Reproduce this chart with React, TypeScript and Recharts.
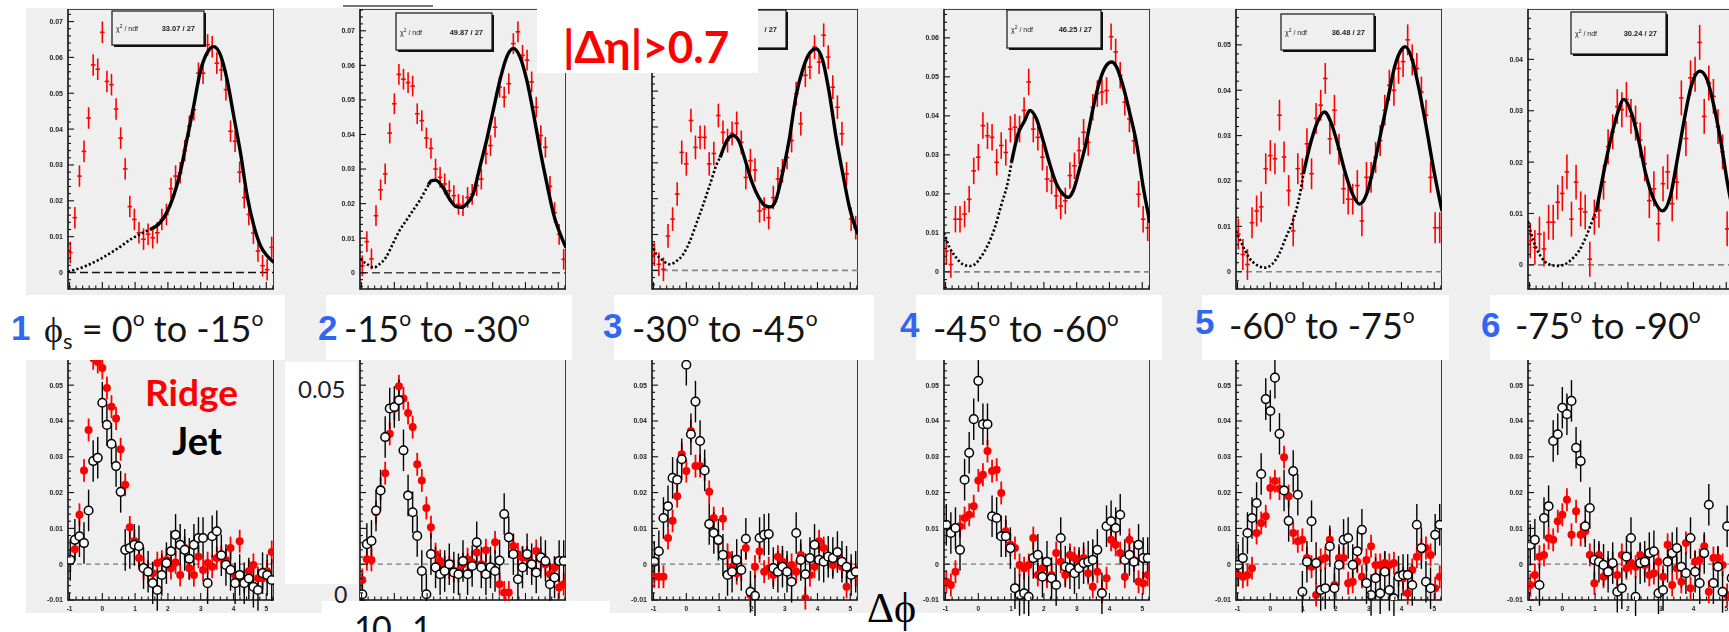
import {
  ComposedChart,
  Scatter,
  Line,
  XAxis,
  YAxis,
  ErrorBar,
  ReferenceLine,
  ReferenceArea,
} from 'recharts';

// Δφ binning shared by all twelve histograms: 45 bins of 8° from -π/3 to 5π/3
const PHI_LOW = -Math.PI / 3;
const PHI_HIGH = (5 * Math.PI) / 3;
const BIN_HALF_WIDTH = Math.PI / 45;

const deltaPhiBins = [
  -0.977, -0.838, -0.698, -0.559, -0.419, -0.279, -0.14, 0.0, 0.14, 0.279, 0.419, 0.559, 0.698,
  0.838, 0.977, 1.117, 1.257, 1.396, 1.536, 1.676, 1.815, 1.955, 2.094, 2.234, 2.374, 2.513, 2.653,
  2.793, 2.932, 3.072, 3.211, 3.351, 3.491, 3.63, 3.77, 3.91, 4.049, 4.189, 4.328, 4.468, 4.608,
  4.747, 4.887, 5.027, 5.166,
];

// all yields below are in units of 10^-3

// upper row: |Δη| > 0.7 correlation per trigger orientation bin
const ridgeTop1 = [
  5.6, 15.3, 26.9, 33.8, 43.1, 57.9, 56.7, 67.0, 53.3, 52.4, 45.6, 37.5, 28.9, 18.4, 14.8, 11.1,
  9.3, 10.7, 9.7, 11.1, 14.8, 16.2, 23.4, 26.9, 27.8, 34.0, 40.8, 45.4, 55.6, 55.6, 63.5, 63.0, 58.4,
  56.5, 51.0, 39.4, 36.6, 28.0, 20.9, 16.2, 11.0, 6.0, 1.9, 0.8, 7.0,
];
const ridgeTop2 = [
  2.0, 9.0, 4.0, 16.5, 24.0, 28.6, 40.4, 48.9, 57.4, 56.0, 55.0, 54.0, 46.0, 44.0, 39.0, 36.0, 30.0,
  27.6, 25.7, 23.7, 22.3, 19.8, 19.4, 21.8, 22.7, 25.2, 27.1, 34.4, 36.8, 42.1, 53.7, 50.8, 54.7,
  66.3, 69.7, 62.9, 61.5, 55.2, 47.9, 39.7, 36.3, 25.0, 17.4, 11.1, 3.9,
];
const ridgeTop3 = [
  4.5, 1.7, 0.3, 9.6, 14.3, 21.3, 32.9, 29.7, 41.8, 34.3, 37.1, 37.1, 29.7, 32.6, 43.2, 38.5, 36.2,
  38.2, 41.0, 35.7, 25.9, 30.6, 28.0, 16.6, 17.1, 14.7, 20.3, 25.5, 27.8, 31.5, 36.2, 49.3, 40.9,
  54.4, 56.7, 62.3, 58.1, 65.6, 59.5, 51.1, 45.5, 38.1, 26.9, 14.3, 11.9,
];
const ridgeTop4 = [
  5.3, 1.9, 13.5, 13.5, 14.8, 18.6, 25.9, 29.4, 37.5, 34.9, 34.5, 28.1, 32.4, 30.6, 36.6, 37.1, 36.6,
  41.4, 48.7, 36.6, 34.5, 29.4, 23.8, 23.3, 19.5, 16.9, 18.2, 24.7, 27.2, 31.1, 35.8, 33.2, 42.2,
  45.7, 46.1, 46.5, 60.3, 56.4, 50.4, 43.5, 39.2, 33.6, 19.9, 13.5, 11.3,
];
const ridgeTop5 = [
  8.3, 3.8, 1.6, 10.8, 13.4, 14.3, 22.7, 25.6, 24.9, 34.5, 25.3, 17.9, 9.0, 22.7, 21.6, 28.2, 21.6,
  33.8, 36.7, 42.6, 29.3, 35.6, 27.0, 18.3, 16.0, 16.0, 19.0, 11.2, 20.8, 20.8, 25.2, 28.9, 35.6,
  41.1, 40.0, 44.8, 46.3, 51.1, 46.7, 44.8, 39.6, 34.5, 20.8, 9.7, 9.7,
];
const ridgeTop6 = [
  4.7, 3.4, 6.0, 3.1, 8.3, 8.3, 12.2, 13.9, 18.1, 8.9, 16.1, 10.9, 10.3, 1.1, 9.3, 10.6, 16.1, 23.0,
  25.9, 30.8, 30.2, 32.2, 28.9, 27.6, 24.3, 19.7, 12.5, 14.8, 8.0, 15.8, 18.1, 11.9, 16.1, 32.5,
  24.6, 36.4, 37.1, 43.3, 28.9, 35.4, 32.8, 26.9, 22.0, 7.0, 10.0,
];

// fit curves, [Δφ, yield]; "outer" is drawn dotted, "inner" is the fitted range
type Pt = [number, number];
const fitTop1Outer: Pt[] = [
  [-1.047, 0.2], [-0.485, 1.9], [-0.077, 3.7], [0.434, 6.5], [0.945, 9.7], [1.456, 12.0],
];
const fitTop1Inner: Pt[] = [
  [1.456, 12.0], [1.762, 13.9], [1.966, 16.7], [2.171, 21.3], [2.375, 27.8], [2.579, 37.1],
  [2.784, 46.3], [2.988, 56.1], [3.192, 61.2], [3.396, 63.0], [3.601, 60.7], [3.805, 53.8],
  [4.009, 43.6], [4.214, 33.4], [4.418, 21.3], [4.622, 13.0], [4.826, 7.4], [5.031, 4.6],
  [5.235, 2.8],
];
const fitTop2Outer: Pt[] = [
  [-1.047, 4.0], [-0.822, 2.4], [-0.617, 1.5], [-0.464, 2.4], [-0.259, 4.4], [-0.054, 8.2],
  [0.151, 12.1], [0.355, 15.0], [0.56, 17.9], [0.765, 20.8], [0.969, 24.2], [1.047, 25.5],
];
const fitTop2Inner: Pt[] = [
  [1.047, 25.5], [1.123, 26.6], [1.256, 26.8], [1.481, 24.7], [1.686, 21.3], [1.89, 19.1],
  [2.044, 18.9], [2.198, 19.8], [2.402, 22.7], [2.607, 30.5], [2.812, 38.2], [3.016, 47.0],
  [3.221, 55.7], [3.426, 62.4], [3.631, 64.9], [3.835, 62.4], [4.04, 55.7], [4.245, 46.0],
  [4.45, 35.3], [4.654, 25.7], [4.859, 16.9], [5.064, 11.1], [5.236, 7.3],
];
const fitTop3Outer: Pt[] = [
  [-1.047, 7.3], [-0.914, 4.5], [-0.76, 3.1], [-0.504, 1.7], [-0.299, 2.6], [-0.094, 4.5],
  [0.111, 8.2], [0.316, 13.3], [0.521, 18.5], [0.726, 24.1], [0.93, 29.7], [1.033, 31.5],
];
const fitTop3Inner: Pt[] = [
  [1.033, 31.5], [1.238, 36.2], [1.422, 37.6], [1.596, 36.2], [1.801, 30.6], [2.006, 24.5],
  [2.211, 20.3], [2.416, 18.0], [2.57, 17.7], [2.723, 19.4], [2.928, 26.9], [3.133, 36.2],
  [3.338, 48.3], [3.543, 55.8], [3.748, 60.4], [3.953, 61.8], [4.158, 58.6], [4.363, 49.3],
  [4.568, 37.1], [4.773, 26.9], [4.977, 17.5], [5.234, 10.1],
];
const fitTop4Outer: Pt[] = [
  [-1.047, 10.0], [-0.874, 6.2], [-0.67, 3.6], [-0.467, 1.9], [-0.263, 1.5], [-0.11, 1.9],
  [0.094, 4.0], [0.297, 7.0], [0.501, 11.3], [0.705, 17.3], [0.908, 23.3], [1.01, 28.0],
];
const fitTop4Inner: Pt[] = [
  [1.01, 28.0], [1.214, 35.4], [1.417, 38.8], [1.57, 41.4], [1.774, 39.2], [1.977, 33.6],
  [2.181, 27.6], [2.385, 22.5], [2.588, 19.9], [2.741, 19.1], [2.894, 20.8], [3.098, 26.8],
  [3.301, 33.6], [3.505, 42.2], [3.709, 49.1], [3.912, 53.0], [4.065, 53.8], [4.218, 52.5],
  [4.422, 47.4], [4.625, 40.5], [4.829, 32.8], [5.032, 21.6], [5.236, 12.6],
];
const fitTop5Outer: Pt[] = [
  [-1.047, 9.0], [-0.865, 6.1], [-0.651, 3.1], [-0.437, 1.6], [-0.169, 0.9], [0.045, 1.6],
  [0.259, 3.8], [0.473, 7.5], [0.687, 11.2], [0.902, 17.1], [1.009, 21.6],
];
const fitTop5Inner: Pt[] = [
  [1.009, 21.6], [1.223, 28.2], [1.437, 33.0], [1.651, 35.2], [1.865, 32.6], [2.079, 27.5],
  [2.293, 21.6], [2.508, 17.1], [2.722, 14.9], [2.936, 17.1], [3.15, 23.0], [3.364, 30.4],
  [3.578, 37.8], [3.792, 45.2], [4.006, 49.0], [4.114, 49.6], [4.328, 46.7], [4.542, 40.0],
  [4.756, 31.9], [4.97, 23.0], [5.236, 13.4],
];
const fitTop6Outer: Pt[] = [
  [-1.047, 8.5], [-0.886, 4.7], [-0.672, 1.8], [-0.405, 0.1], [-0.137, -0.2], [0.077, 0.1],
  [0.291, 1.1], [0.505, 2.7], [0.72, 5.4], [0.88, 8.0], [1.041, 10.6],
];
const fitTop6Inner: Pt[] = [
  [1.041, 10.6], [1.255, 17.8], [1.469, 24.3], [1.683, 29.5], [1.876, 32.2], [2.111, 29.5],
  [2.326, 24.3], [2.54, 17.8], [2.807, 12.5], [3.054, 10.5], [3.289, 13.2], [3.503, 20.4],
  [3.717, 28.2], [3.932, 34.8], [4.199, 37.7], [4.413, 36.1], [4.628, 30.8], [4.842, 23.7],
  [5.056, 15.2], [5.236, 9.5],
];

// χ²/ndf of each fit; the third box is mostly covered, only its tail shows
const chi2Labels = ['33.07 / 27', '49.87 / 27', '/ 27', '46.25 / 27', '36.48 / 27', '30.24 / 27'];

// lower row: ridge (red) and jet (black) yields
const ridgeBottom1 = [
  1.0, 4.2, 13.8, 26.2, 37.5, 57.5, 56.5, 54.8, 49.2, 44.0, 40.7, 32.1, 22.2, 10.3, 6.5, 1.7, -1.1,
  -2.1, -2.5, 0.3, 0.7, 1.2, -1.1, 0.5, -3.0, 4.5, -1.1, -3.0, 2.1, -1.6, 0.3, -0.7, 1.7, 2.0, 1.2,
  4.5, -3.0, 6.4, -4.9, -2.0, -0.2, -3.9, -3.9, -2.0, 3.4,
];
const jetBottom1 = [
  1.2, 6.8, 7.8, 5.9, 15.0, 28.8, 29.7, 45.1, 38.9, 33.6, 27.4, 20.2, 4.0, 4.5, 5.4, 5.0, -1.1, -2.1,
  -5.3, -7.2, -3.0, 0.3, 3.6, 8.2, 5.4, 4.0, 1.5, 5.4, 7.3, 7.3, -5.3, 7.8, 9.2, 2.5, -0.2, -1.6,
  -5.3, -3.0, -5.3, -4.0, -6.3, -7.2, -2.5, -3.0, -4.4,
];
const ridgeBottom2 = [
  -4.4, 1.4, 1.2, 14.5, 21.0, 25.4, 36.4, 43.4, 49.7, 46.3, 42.2, 38.3, 27.9, 23.4, 15.7, 10.3, 2.8,
  0.9, -0.9, -0.9, -1.9, -1.9, 0.0, 1.4, 0.5, 3.3, 0.0, 3.9, -0.9, 6.1, -5.6, -7.9, -7.9, 5.1, 2.8,
  1.9, 1.9, 0.0, 3.7, 1.4, 0.0, -2.8, -0.9, -6.5, -5.6,
];
const jetBottom2 = [
  -8.4, 5.6, 6.5, 15.0, 20.6, 35.5, 43.5, 43.9, 45.8, 31.8, 19.2, 14.5, 7.9, -1.9, -8.4, 2.8, -0.9,
  -2.8, -1.9, 0.0, -2.3, -2.8, 0.9, -2.8, -0.5, 6.1, -0.9, -2.8, -0.9, -1.9, 1.0, 14.0, 7.5, 2.8,
  -4.2, -0.9, 2.8, 0.0, -2.3, 1.9, 0.9, -5.6, -3.7, 0.9, 0.9,
];
const ridgeBottom3 = [
  -3.5, -3.5, -3.5, 7.3, 12.1, 19.0, 30.7, 26.0, 37.2, 27.4, 27.4, 26.4, 20.2, 12.9, 6.4, 12.7, 2.6,
  -0.7, -2.5, -1.6, 4.5, -8.6, -0.7, 3.6, -2.1, -1.1, -3.0, 2.1, 0.7, -0.7, -0.2, -2.1, 2.6, -9.5,
  -3.0, -0.7, 6.4, 4.5, 1.7, -0.2, 1.7, -0.7, -6.3, -2.1, -3.0,
];
const jetBottom3 = [
  0.7, 3.6, 12.9, 16.2, 24.1, 23.6, 29.3, 55.7, 36.3, 45.4, 34.4, 26.2, 11.2, 8.7, 6.8, 2.6, -3.0,
  -2.1, 1.2, -1.6, 7.1, -7.7, -8.8, 7.3, 8.2, 8.4, -1.1, -2.1, -0.7, -2.1, -4.9, 8.7, 1.2, -2.8, 1.7,
  5.4, 1.2, 0.7, 2.1, 1.7, 3.4, 0.7, -0.7, -3.0, -2.1,
];
const ridgeBottom4 = [
  -4.9, -5.8, -2.1, 10.6, 12.9, 13.8, 16.2, 23.4, 25.0, 31.6, 26.0, 26.4, 19.9, 9.2, 5.4, 4.5, -0.2,
  -1.1, -0.2, 7.3, -3.0, -1.1, -3.5, -3.0, 3.1, 0.7, -3.0, 2.6, 1.7, 0.7, 1.7, -2.5, -6.3, -2.1,
  -7.7, -3.9, 6.8, 5.4, 3.1, -3.5, 6.8, 1.2, -4.9, -5.3, -3.0,
];
const jetBottom4 = [
  11.0, 8.7, 10.1, 4.0, 23.6, 31.1, 40.5, 51.2, 39.1, 39.1, 13.4, 12.9, 7.8, 7.8, 4.5, -6.7, -8.6,
  -8.1, -9.1, 1.7, 2.6, -3.5, 0.7, -3.9, -5.8, 7.3, -0.7, -1.1, -2.5, -1.1, 0.3, 0.7, 1.2, 4.0, -8.1,
  10.6, 12.0, 10.1, 13.8, 1.2, 2.6, 0.7, 5.4, 1.7, 1.7,
];
const ridgeBottom5 = [
  -3.0, -3.5, -3.0, -1.1, 8.7, 11.5, 13.4, 21.3, 23.2, 21.1, 29.9, 19.0, 8.7, 6.4, 6.8, 1.7, -0.7,
  -8.6, 1.2, 1.7, 6.8, -5.8, 1.7, 1.7, -5.3, -4.9, 0.7, -3.5, 1.2, 5.0, -0.2, -0.2, 0.3, -0.2, 0.3,
  -3.0, -3.9, -8.1, -1.6, 2.1, 4.0, 4.5, 2.6, -6.7, -3.5,
];
const jetBottom5 = [
  -0.2, 1.7, 8.7, 12.9, 17.1, 25.2, 46.1, 42.8, 52.1, 36.4, 20.6, 12.1, 26.0, 19.4, -7.7, 0.7, 12.0,
  0.3, -7.2, -6.7, 5.0, -6.7, -0.2, 6.8, 7.3, -0.2, 3.6, 9.6, -5.3, -8.6, -3.9, -8.1, -2.1, -7.2,
  -9.5, -3.5, -3.0, -3.0, -5.8, 11.0, 4.5, -4.9, -6.7, 8.2, 11.0,
];
const ridgeBottom6 = [
  -5.8, -3.0, 2.1, 2.6, 7.3, 6.8, 12.0, 13.8, 18.0, 8.2, 14.8, 8.2, 9.2, 2.6, -5.3, 2.6, -3.5, -1.1,
  0.3, -3.0, 2.6, -1.1, 0.3, -0.7, 2.6, -0.2, -3.0, -2.5, 0.7, -3.5, 5.4, -5.8, -1.1, -4.9, 5.9,
  -6.7, 0.7, 1.2, 5.0, -7.7, 1.7, 1.7, -0.2, -8.6, -3.5,
];
const jetBottom6 = [
  5.4, 6.8, -5.8, 12.9, 16.2, 34.4, 36.3, 43.7, 41.9, 45.6, 32.5, 28.8, 10.6, 15.7, 1.2, 0.7, -0.2,
  -2.1, 0.3, -7.7, -6.7, 2.1, 7.3, -9.1, 0.3, 0.7, 3.1, 3.6, -8.1, -7.2, 0.7, 3.1, 4.5, -0.7, -2.5,
  7.3, -2.1, -5.3, 3.1, 16.6, -5.3, -0.7, -7.7, 10.6, -3.9,
];

const orientationBins = [
  ['0', '-15'],
  ['-15', '-30'],
  ['-30', '-45'],
  ['-45', '-60'],
  ['-60', '-75'],
  ['-75', '-90'],
];

const topRidge = [ridgeTop1, ridgeTop2, ridgeTop3, ridgeTop4, ridgeTop5, ridgeTop6];
const topFitOuter = [fitTop1Outer, fitTop2Outer, fitTop3Outer, fitTop4Outer, fitTop5Outer, fitTop6Outer];
const topFitInner = [fitTop1Inner, fitTop2Inner, fitTop3Inner, fitTop4Inner, fitTop5Inner, fitTop6Inner];
const topRidgeError = [3.0, 3.0, 3.3, 3.4, 3.4, 3.4];
const bottomRidge = [ridgeBottom1, ridgeBottom2, ridgeBottom3, ridgeBottom4, ridgeBottom5, ridgeBottom6];
const bottomJet = [jetBottom1, jetBottom2, jetBottom3, jetBottom4, jetBottom5, jetBottom6];
const RIDGE_ERROR = 3.2;
const JET_ERROR = 5.8;

// layout
const AXIS_W = 44;
const PLOT_W = 206;
const FRAME_LEFTS = [68, 360, 652, 944, 1236, 1528];
const TOP_Y = 9;
const TOP_H = 280;
const BOT_Y = 354;
const BOT_H = 246;
const TOP_Y_DOMAINS: [number, number][] = [
  [-4.6, 73.5],
  [-4.7, 76.3],
  [-5.2, 72.9],
  [-4.4, 67.4],
  [-3.8, 57.9],
  [-4.7, 49.8],
];
const BOT_Y_DOMAIN: [number, number] = [-10, 58.7];
const STAT_BOXES = [
  { x: 112, y: 11, w: 92, h: 34 },
  { x: 396, y: 13, w: 96, h: 37 },
  { x: 692, y: 10, w: 94, h: 38 },
  { x: 1007, y: 10, w: 94, h: 38 },
  { x: 1281, y: 14, w: 93, h: 36 },
  { x: 1571, y: 12, w: 95, h: 42 },
];
const LABEL_BOXES = [
  [26, 285],
  [326, 572],
  [614, 874],
  [916, 1162],
  [1202, 1449],
  [1490, 1729],
];
const LABEL_POS = [
  { nx: 11, ny: 340, tx: 44, ty: 342 },
  { nx: 318, ny: 340, tx: 344, ty: 342 },
  { nx: 603, ny: 338, tx: 632, ty: 342 },
  { nx: 900, ny: 337, tx: 933, ty: 342 },
  { nx: 1195, ny: 334, tx: 1229, ty: 339 },
  { nx: 1481, ny: 337, tx: 1515, ty: 339 },
];

const CANVAS_GREY = '#efefef';
const ROOT_FONT = "'Liberation Sans', Arial, sans-serif";
const SLIDE_FONT = "Lato, 'Noto Sans', sans-serif";

const steps = (from: number, to: number, step: number) => {
  const out: number[] = [];
  for (let v = Math.ceil(from / step - 1e-9) * step; v <= to + 1e-9; v += step) {
    out.push(Math.round(v * 100) / 100);
  }
  return out;
};
const phiTicks = steps(-1, 5.2, 0.2);
const fmtYield = (v: number) => (Math.round(v) === 0 ? '0' : String(Math.round(v) / 1000));

const toPoints = (pts: Pt[]) => pts.map(([x, y]) => ({ x, y }));
const toBins = (vals: number[], ey: number, ex = 0) =>
  deltaPhiBins.map((x, i) => ({ x, y: vals[i], ex, ey }));

// ROOT style ticks: drawn inside the frame, labels only on major ticks
const makeXTick = (plotBottom: number, withLabels: boolean) => (props: any) => {
  const { x, payload } = props;
  const v = payload.value as number;
  const major = Math.abs(v - Math.round(v)) < 1e-6;
  return (
    <g>
      <line x1={x} x2={x} y1={plotBottom} y2={plotBottom - (major ? 7 : 3.5)} stroke="#111" strokeWidth={1.1} />
      {withLabels && major ? (
        <text x={x} y={plotBottom + 11} textAnchor="middle" fontSize={6.5} fontWeight={700} fill="#222" fontFamily={ROOT_FONT}>
          {Math.round(v)}
        </text>
      ) : null}
    </g>
  );
};

const makeYTick = (withLabels: boolean) => (props: any) => {
  const { y, payload } = props;
  const v = payload.value as number;
  const major = Math.round(v) % 10 === 0;
  return (
    <g>
      <line x1={AXIS_W} x2={AXIS_W + (major ? 6 : 3)} y1={y} y2={y} stroke="#111" strokeWidth={1.1} />
      {withLabels && major ? (
        <text x={AXIS_W - 5} y={y} dy={2.4} textAnchor="end" fontSize={7} fontWeight={700} fill="#222" fontFamily={ROOT_FONT}>
          {fmtYield(v)}
        </text>
      ) : null}
    </g>
  );
};

const noMarker = () => <g />;
const ridgeMarker = (p: any) => <circle cx={p.cx} cy={p.cy} r={4} fill="#ff0000" />;
const jetMarker = (p: any) => <circle cx={p.cx} cy={p.cy} r={4.3} fill="#fafafa" stroke="#000" strokeWidth={1.5} />;

const TopPanel = ({ index }: { index: number }) => {
  const yDomain = TOP_Y_DOMAINS[index];
  const ridge = toBins(topRidge[index], topRidgeError[index], BIN_HALF_WIDTH);
  const zeroColor = index === 0 ? '#111' : index === 1 ? '#444' : '#858585';
  return (
    <div style={{ position: 'absolute', left: FRAME_LEFTS[index] - AXIS_W, top: TOP_Y, filter: 'blur(0.45px)' }}>
      <ComposedChart width={AXIS_W + PLOT_W} height={TOP_H + 2} margin={{ top: 0, right: 0, bottom: 0, left: 0 }}>
        <XAxis
          type="number"
          dataKey="x"
          domain={[PHI_LOW, PHI_HIGH]}
          ticks={phiTicks}
          interval={0}
          allowDataOverflow
          axisLine={false}
          tickLine={false}
          height={2}
          tick={makeXTick(TOP_H, false)}
        />
        <YAxis
          type="number"
          dataKey="y"
          domain={yDomain}
          ticks={steps(yDomain[0], yDomain[1], 2)}
          interval={0}
          allowDataOverflow
          axisLine={false}
          tickLine={false}
          width={AXIS_W}
          tick={makeYTick(index !== 2)}
        />
        <ReferenceLine y={0} stroke={zeroColor} strokeWidth={1.6} strokeDasharray={index < 2 ? '8 4' : '6 4'} />
        <Scatter data={ridge} shape={noMarker} isAnimationActive={false}>
          <ErrorBar dataKey="ey" direction="y" width={0} stroke="#ff0000" strokeWidth={1.6} />
          <ErrorBar dataKey="ex" direction="x" width={0} stroke="#ff0000" strokeWidth={1.6} />
        </Scatter>
        <Line
          data={toPoints(topFitOuter[index])}
          dataKey="y"
          type="monotone"
          stroke="#000"
          strokeWidth={2.6}
          strokeDasharray="2.2 2.2"
          dot={false}
          isAnimationActive={false}
        />
        <Line
          data={toPoints(topFitInner[index])}
          dataKey="y"
          type="monotone"
          stroke="#000"
          strokeWidth={3.4}
          dot={false}
          isAnimationActive={false}
        />
        <ReferenceArea
          x1={PHI_LOW}
          x2={PHI_HIGH}
          y1={yDomain[0]}
          y2={yDomain[1]}
          fill="none"
          fillOpacity={0}
          stroke="#111"
          strokeWidth={1.6}
          ifOverflow="visible"
        />
      </ComposedChart>
    </div>
  );
};

const BottomPanel = ({ index }: { index: number }) => {
  const ridge = toBins(bottomRidge[index], RIDGE_ERROR);
  const jet = toBins(bottomJet[index], JET_ERROR);
  return (
    <div style={{ position: 'absolute', left: FRAME_LEFTS[index] - AXIS_W, top: BOT_Y, filter: 'blur(0.45px)' }}>
      <ComposedChart width={AXIS_W + PLOT_W} height={BOT_H + 16} margin={{ top: 0, right: 0, bottom: 0, left: 0 }}>
        <XAxis
          type="number"
          dataKey="x"
          domain={[PHI_LOW, PHI_HIGH]}
          ticks={phiTicks}
          interval={0}
          allowDataOverflow
          axisLine={false}
          tickLine={false}
          height={16}
          tick={makeXTick(BOT_H, index !== 1)}
        />
        <YAxis
          type="number"
          dataKey="y"
          domain={BOT_Y_DOMAIN}
          ticks={steps(BOT_Y_DOMAIN[0], BOT_Y_DOMAIN[1], 2)}
          interval={0}
          allowDataOverflow
          axisLine={false}
          tickLine={false}
          width={AXIS_W}
          tick={makeYTick(index !== 1)}
        />
        <ReferenceLine y={0} stroke="#7a7a7a" strokeWidth={1.3} strokeDasharray="5 4" />
        <Scatter data={ridge} shape={ridgeMarker} isAnimationActive={false}>
          <ErrorBar dataKey="ey" direction="y" width={0} stroke="#ff0000" strokeWidth={1.8} />
        </Scatter>
        <Scatter data={jet} shape={jetMarker} isAnimationActive={false}>
          <ErrorBar dataKey="ey" direction="y" width={0} stroke="#000" strokeWidth={1.4} />
        </Scatter>
        <ReferenceArea
          x1={PHI_LOW}
          x2={PHI_HIGH}
          y1={BOT_Y_DOMAIN[0]}
          y2={BOT_Y_DOMAIN[1]}
          fill="none"
          fillOpacity={0}
          stroke="#111"
          strokeWidth={1.6}
          ifOverflow="visible"
        />
      </ComposedChart>
    </div>
  );
};

const RangeLabel = ({ index }: { index: number }) => {
  const [from, to] = orientationBins[index];
  const p = LABEL_POS[index];
  return (
    <>
      <text x={p.nx} y={p.ny} fontSize={35} fontWeight={700} fill="#3366f0" fontFamily={ROOT_FONT}>
        {index + 1}
      </text>
      <text x={p.tx} y={p.ty} fontSize={36} fill="#151515" fontFamily={SLIDE_FONT}>
        {index === 0 ? (
          <>
            <tspan fontFamily="'Liberation Serif', 'DejaVu Serif', serif">ϕ</tspan>
            <tspan fontSize={22} dy={7}>
              s
            </tspan>
            <tspan dy={-7}>{' = '}</tspan>
          </>
        ) : null}
        <tspan>{from}</tspan>
        <tspan fontSize={21} dy={-16}>
          o
        </tspan>
        <tspan dy={16}>{` to ${to}`}</tspan>
        <tspan fontSize={21} dy={-16}>
          o
        </tspan>
      </text>
    </>
  );
};

export default function App() {
  const panelIdx = [0, 1, 2, 3, 4, 5];
  return (
    <div
      style={{
        position: 'absolute',
        left: 0,
        top: 0,
        width: 1729,
        height: 632,
        overflow: 'hidden',
        background: '#fff',
      }}
    >
      <div style={{ position: 'absolute', left: 26, top: 8, width: 1703, height: 605, background: CANVAS_GREY }} />
      {panelIdx.map((i) => (
        <TopPanel key={`t${i}`} index={i} />
      ))}
      {panelIdx.map((i) => (
        <BottomPanel key={`b${i}`} index={i} />
      ))}

      {/* fit statistics boxes */}
      <svg width={1729} height={632} style={{ position: 'absolute', left: 0, top: 0, filter: 'blur(0.4px)' }}>
        {STAT_BOXES.map((b, i) => (
          <g key={i}>
            <rect x={b.x + 2} y={b.y + 2} width={b.w} height={b.h} fill="#111" />
            <rect x={b.x} y={b.y} width={b.w} height={b.h} fill={CANVAS_GREY} stroke="#111" strokeWidth={1.2} />
            {i !== 2 ? (
              <text x={b.x + 4} y={b.y + b.h / 2 + 3} fontSize={7} fill="#222" fontFamily={ROOT_FONT}>
                χ<tspan fontSize={5} dy={-3}>2</tspan>
                <tspan dy={3}>{' / ndf'}</tspan>
              </text>
            ) : null}
            <text x={b.x + b.w - 9} y={b.y + b.h / 2 + 3} fontSize={7.5} fontWeight={700} textAnchor="end" fill="#222" fontFamily={ROOT_FONT}>
              {chi2Labels[i]}
            </text>
          </g>
        ))}
      </svg>

      {/* slide annotations */}
      <svg width={1729} height={632} style={{ position: 'absolute', left: 0, top: 0 }}>
        <defs>
          <clipPath id="cutRow">
            <rect x={322} y={601} width={288} height={31} />
          </clipPath>
        </defs>
        <line x1={343} x2={433} y1={6} y2={6} stroke="#444" strokeWidth={1.3} />
        <rect x={537} y={0} width={221} height={73} fill="#fff" />
        {LABEL_BOXES.map(([x0, x1], i) => (
          <rect key={i} x={x0} y={295} width={x1 - x0} height={65} fill="#fff" />
        ))}
        <rect x={285} y={362} width={72} height={222} fill="#fff" />
        <rect x={322} y={601} width={288} height={31} fill="#fff" />

        <text x={563} y={63} fontSize={44} fontWeight={700} fill="#ff0000" fontFamily={SLIDE_FONT}>
          |Δη|&gt;0.7
        </text>
        {panelIdx.map((i) => (
          <RangeLabel key={i} index={i} />
        ))}
        <text x={145} y={406} fontSize={37} fontWeight={700} fill="#ff0000" fontFamily={SLIDE_FONT}>
          Ridge
        </text>
        <text x={172} y={455} fontSize={38} fontWeight={700} fill="#000" fontFamily={SLIDE_FONT}>
          Jet
        </text>
        <text x={298} y={398} fontSize={24} fill="#1b2130" fontFamily={SLIDE_FONT}>
          0.05
        </text>
        <text x={334} y={603} fontSize={23} fill="#1b2130" fontFamily={SLIDE_FONT}>
          0
        </text>
        <g clipPath="url(#cutRow)">
          <text x={354} y={641} fontSize={34} fill="#111" fontFamily={SLIDE_FONT}>
            1
          </text>
          <text x={372} y={641} fontSize={34} fill="#111" fontFamily={SLIDE_FONT}>
            0
          </text>
          <text x={412} y={641} fontSize={34} fill="#111" fontFamily={SLIDE_FONT}>
            1
          </text>
        </g>
        <text x={867} y={622} fontSize={42} fill="#000" fontFamily="'Liberation Serif', 'DejaVu Serif', serif">
          Δϕ
        </text>
      </svg>
    </div>
  );
}
